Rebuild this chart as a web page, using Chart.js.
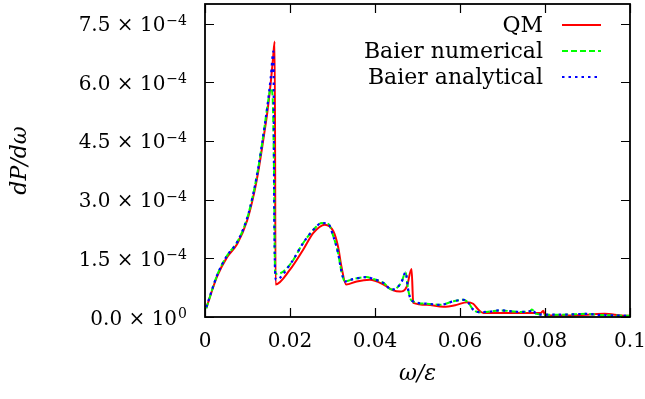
<!DOCTYPE html>
<html>
<head>
<meta charset="utf-8">
<script src="https://cdn.jsdelivr.net/npm/chart.js@4.4.1/dist/chart.umd.min.js"></script>
<style>
  html, body { margin: 0; padding: 0; background: #fff; }
</style>
</head>
<body>
<canvas id="chart" width="645" height="399"></canvas>
<script>
// ==============================
// DATA
// ==============================
const qmX = [0.0003, 0.0029, 0.0052, 0.0076, 0.0099, 0.0115, 0.0127, 0.0139, 0.0147, 0.0155, 0.0160, 0.0164,
  0.0166, 0.0200, 0.0231, 0.0255, 0.0282, 0.0302, 0.0313, 0.0321, 0.0332, 0.0357, 0.0388, 0.0420, 0.0443,
  0.0459, 0.0475, 0.0486, 0.0490, 0.0522, 0.0561, 0.0592, 0.0616, 0.0631, 0.0643, 0.0655, 0.0700, 0.0750,
  0.0790, 0.0796, 0.0800, 0.0850, 0.0900, 0.0940, 0.0980, 0.1000];
const qmY = [0.23e-4, 1.05e-4, 1.53e-4, 1.87e-4, 2.46e-4, 3.14e-4, 3.82e-4, 4.66e-4, 5.26e-4, 6.02e-4, 6.60e-4, 7.04e-4,
  0.83e-4, 1.21e-4, 1.72e-4, 2.15e-4, 2.36e-4, 2.19e-4, 1.80e-4, 1.29e-4, 0.83e-4, 0.91e-4, 0.95e-4, 0.83e-4, 0.68e-4,
  0.65e-4, 0.78e-4, 1.23e-4, 0.36e-4, 0.31e-4, 0.26e-4, 0.31e-4, 0.38e-4, 0.34e-4, 0.19e-4, 0.10e-4, 0.10e-4, 0.10e-4,
  0.10e-4, 0.16e-4, 0.04e-4, 0.04e-4, 0.06e-4, 0.08e-4, 0.04e-4, 0.03e-4];

const numX = [0.0003, 0.0029, 0.0052, 0.0076, 0.0099, 0.0115, 0.0127, 0.0139, 0.0147, 0.0155, 0.0159, 0.0162,
  0.0165, 0.0170, 0.0200, 0.0231, 0.0255, 0.0275, 0.0290, 0.0302, 0.0313, 0.0321, 0.0329, 0.0349, 0.0380,
  0.0396, 0.0420, 0.0439, 0.0451, 0.0463, 0.0472, 0.0478, 0.0486, 0.0522, 0.0553, 0.0584, 0.0608, 0.0620,
  0.0631, 0.0647, 0.0671, 0.0694, 0.0741, 0.0765, 0.0769, 0.0780, 0.0804, 0.0835, 0.0870, 0.0898, 0.0930,
  0.0960, 0.1000];
const numY = [0.22e-4, 1.08e-4, 1.57e-4, 1.92e-4, 2.52e-4, 3.22e-4, 3.92e-4, 4.78e-4, 5.40e-4, 5.85e-4, 5.65e-4, 4.00e-4,
  1.13e-4, 1.10e-4, 1.34e-4, 1.89e-4, 2.23e-4, 2.40e-4, 2.38e-4, 2.06e-4, 1.64e-4, 1.17e-4, 0.91e-4, 0.97e-4, 1.02e-4,
  0.97e-4, 0.87e-4, 0.70e-4, 0.74e-4, 0.91e-4, 1.14e-4, 0.70e-4, 0.42e-4, 0.34e-4, 0.31e-4, 0.40e-4, 0.44e-4, 0.36e-4,
  0.19e-4, 0.12e-4, 0.14e-4, 0.17e-4, 0.13e-4, 0.15e-4, 0.19e-4, 0.08e-4, 0.06e-4, 0.06e-4, 0.07e-4, 0.08e-4, 0.05e-4,
  0.04e-4, 0.03e-4];

const anaX = [0.0003, 0.0029, 0.0052, 0.0076, 0.0099, 0.0115, 0.0127, 0.0139, 0.0147, 0.0155, 0.0161, 0.0163,
  0.0167, 0.0200, 0.0231, 0.0255, 0.0275, 0.0290, 0.0302, 0.0313, 0.0321, 0.0329, 0.0349, 0.0380,
  0.0396, 0.0420, 0.0439, 0.0451, 0.0463, 0.0472, 0.0478, 0.0486, 0.0522, 0.0553, 0.0584, 0.0608, 0.0620,
  0.0631, 0.0647, 0.0671, 0.0694, 0.0741, 0.0765, 0.0769, 0.0780, 0.0804, 0.0835, 0.0870, 0.0898, 0.0930,
  0.0960, 0.1000];
const anaY = [0.25e-4, 1.08e-4, 1.57e-4, 1.92e-4, 2.52e-4, 3.22e-4, 3.92e-4, 4.78e-4, 5.40e-4, 6.15e-4, 6.79e-4, 2.50e-4,
  0.95e-4, 1.34e-4, 1.89e-4, 2.23e-4, 2.40e-4, 2.38e-4, 2.06e-4, 1.64e-4, 1.17e-4, 0.91e-4, 0.97e-4, 1.02e-4,
  0.97e-4, 0.87e-4, 0.70e-4, 0.74e-4, 0.91e-4, 1.14e-4, 0.70e-4, 0.42e-4, 0.34e-4, 0.31e-4, 0.40e-4, 0.44e-4, 0.36e-4,
  0.19e-4, 0.12e-4, 0.14e-4, 0.17e-4, 0.13e-4, 0.15e-4, 0.19e-4, 0.08e-4, 0.06e-4, 0.06e-4, 0.07e-4, 0.08e-4, 0.05e-4,
  0.04e-4, 0.03e-4];

// tick labels
const xTickValues = [0, 0.02, 0.04, 0.06, 0.08, 0.1];
const xTickLabels = ["0", "0.02", "0.04", "0.06", "0.08", "0.1"];
const yTickValues = [0, 1.5e-4, 3.0e-4, 4.5e-4, 6.0e-4, 7.5e-4];
const yTickMantissa = ["0.0", "1.5", "3.0", "4.5", "6.0", "7.5"];
const yTickExponent = ["0", "\u22124", "\u22124", "\u22124", "\u22124", "\u22124"];

const seriesNames = ["QM", "Baier numerical", "Baier analytical"];

const SERIF = "'DejaVu Serif', serif";

function toPoints(xs, ys) {
  return xs.map((x, i) => ({ x: x, y: ys[i] }));
}

// ==============================
// FRAME, TICKS, Y LABELS, LEGEND
// ==============================
const framePlugin = {
  id: "frame",
  afterDatasetsDraw(chart) {
    const { ctx, chartArea: a, scales } = chart;
    const xs = scales.x, ys = scales.y;
    const tick = 9;
    ctx.save();
    ctx.strokeStyle = "#000";
    ctx.lineWidth = 1.2;
    ctx.beginPath();
    xTickValues.forEach((v) => {
      const px = Math.round(xs.getPixelForValue(v)) + 0.5;
      ctx.moveTo(px, a.bottom); ctx.lineTo(px, a.bottom - tick);
      ctx.moveTo(px, a.top); ctx.lineTo(px, a.top + tick);
    });
    yTickValues.forEach((v) => {
      const py = Math.round(ys.getPixelForValue(v)) + 0.5;
      ctx.moveTo(a.left, py); ctx.lineTo(a.left + tick, py);
      ctx.moveTo(a.right, py); ctx.lineTo(a.right - tick, py);
    });
    ctx.stroke();
    ctx.lineWidth = 1.8;
    ctx.strokeRect(a.left, a.top, a.right - a.left, a.bottom - a.top);

    // y tick labels with superscript exponents
    ctx.fillStyle = "#000";
    ctx.textBaseline = "alphabetic";
    const rightEdge = 187;
    yTickValues.forEach((v, i) => {
      const py = ys.getPixelForValue(v);
      ctx.font = "14px " + SERIF;
      ctx.textAlign = "right";
      const ew = ctx.measureText(yTickExponent[i]).width;
      ctx.fillText(yTickExponent[i], rightEdge, py + 1);
      ctx.font = "20px " + SERIF;
      ctx.fillText(yTickMantissa[i] + " \u00d7 10", rightEdge - ew - 1, py + 7.5);
    });

    // legend, key at the right of the text
    const rowY = [25, 51, 77];
    chart.data.datasets.forEach((ds, i) => {
      const y = rowY[i];
      ctx.font = "22px " + SERIF;
      ctx.textAlign = "right";
      ctx.textBaseline = "middle";
      ctx.fillText(seriesNames[i], 543, y + 1);
      ctx.strokeStyle = ds.borderColor;
      ctx.lineWidth = ds.borderWidth;
      ctx.setLineDash(ds.borderDash || []);
      ctx.beginPath();
      ctx.moveTo(562, y);
      ctx.lineTo(601, y);
      ctx.stroke();
      ctx.setLineDash([]);
    });
    ctx.restore();
  },
};

// ==============================
// CHART
// ==============================
const ctx = document.getElementById("chart").getContext("2d");

new Chart(ctx, {
  type: "line",
  data: {
    datasets: [
      {
        label: seriesNames[0],
        data: toPoints(qmX, qmY),
        borderColor: "#ff0000",
        borderWidth: 2,
        pointRadius: 0,
        cubicInterpolationMode: "monotone",
        order: 3,
      },
      {
        label: seriesNames[1],
        data: toPoints(numX, numY),
        borderColor: "#00ff00",
        borderWidth: 2,
        borderDash: [6, 3],
        pointRadius: 0,
        cubicInterpolationMode: "monotone",
        order: 2,
      },
      {
        label: seriesNames[2],
        data: toPoints(anaX, anaY),
        borderColor: "#0000ff",
        borderWidth: 2.2,
        borderDash: [2.5, 4],
        pointRadius: 0,
        cubicInterpolationMode: "monotone",
        order: 1,
      },
    ],
  },
  options: {
    responsive: false,
    animation: false,
    events: [],
    layout: { padding: { left: 0, right: 15, top: 4, bottom: 0 } },
    scales: {
      x: {
        type: "linear",
        min: 0,
        max: 0.1,
        afterFit: (s) => { s.height = 82; s.paddingLeft = 0; s.paddingRight = 0; },
        afterBuildTicks: (s) => { s.ticks = xTickValues.map((v) => ({ value: v })); },
        grid: { display: false, drawTicks: false },
        border: { display: false },
        ticks: {
          padding: 13,
          color: "#000",
          font: { family: SERIF, size: 20 },
          callback: (v, i) => xTickLabels[i],
        },
        title: {
          display: true,
          text: "\u03c9/\u03b5",
          color: "#000",
          font: { family: SERIF, size: 22, style: "italic" },
          padding: { top: 0, bottom: 12 },
        },
      },
      y: {
        type: "linear",
        min: 0,
        max: 8.0e-4,
        afterFit: (s) => { s.width = 205; s.paddingTop = 0; s.paddingBottom = 0; },
        grid: { display: false, drawTicks: false },
        border: { display: false },
        ticks: { display: false },
        title: {
          display: true,
          text: "dP/d\u03c9",
          color: "#000",
          font: { family: SERIF, size: 22, style: "italic" },
          padding: { top: 7, bottom: 0 },
        },
      },
    },
    plugins: {
      legend: { display: false },
      tooltip: { enabled: false },
    },
  },
  plugins: [framePlugin],
});
</script>
</body>
</html>
